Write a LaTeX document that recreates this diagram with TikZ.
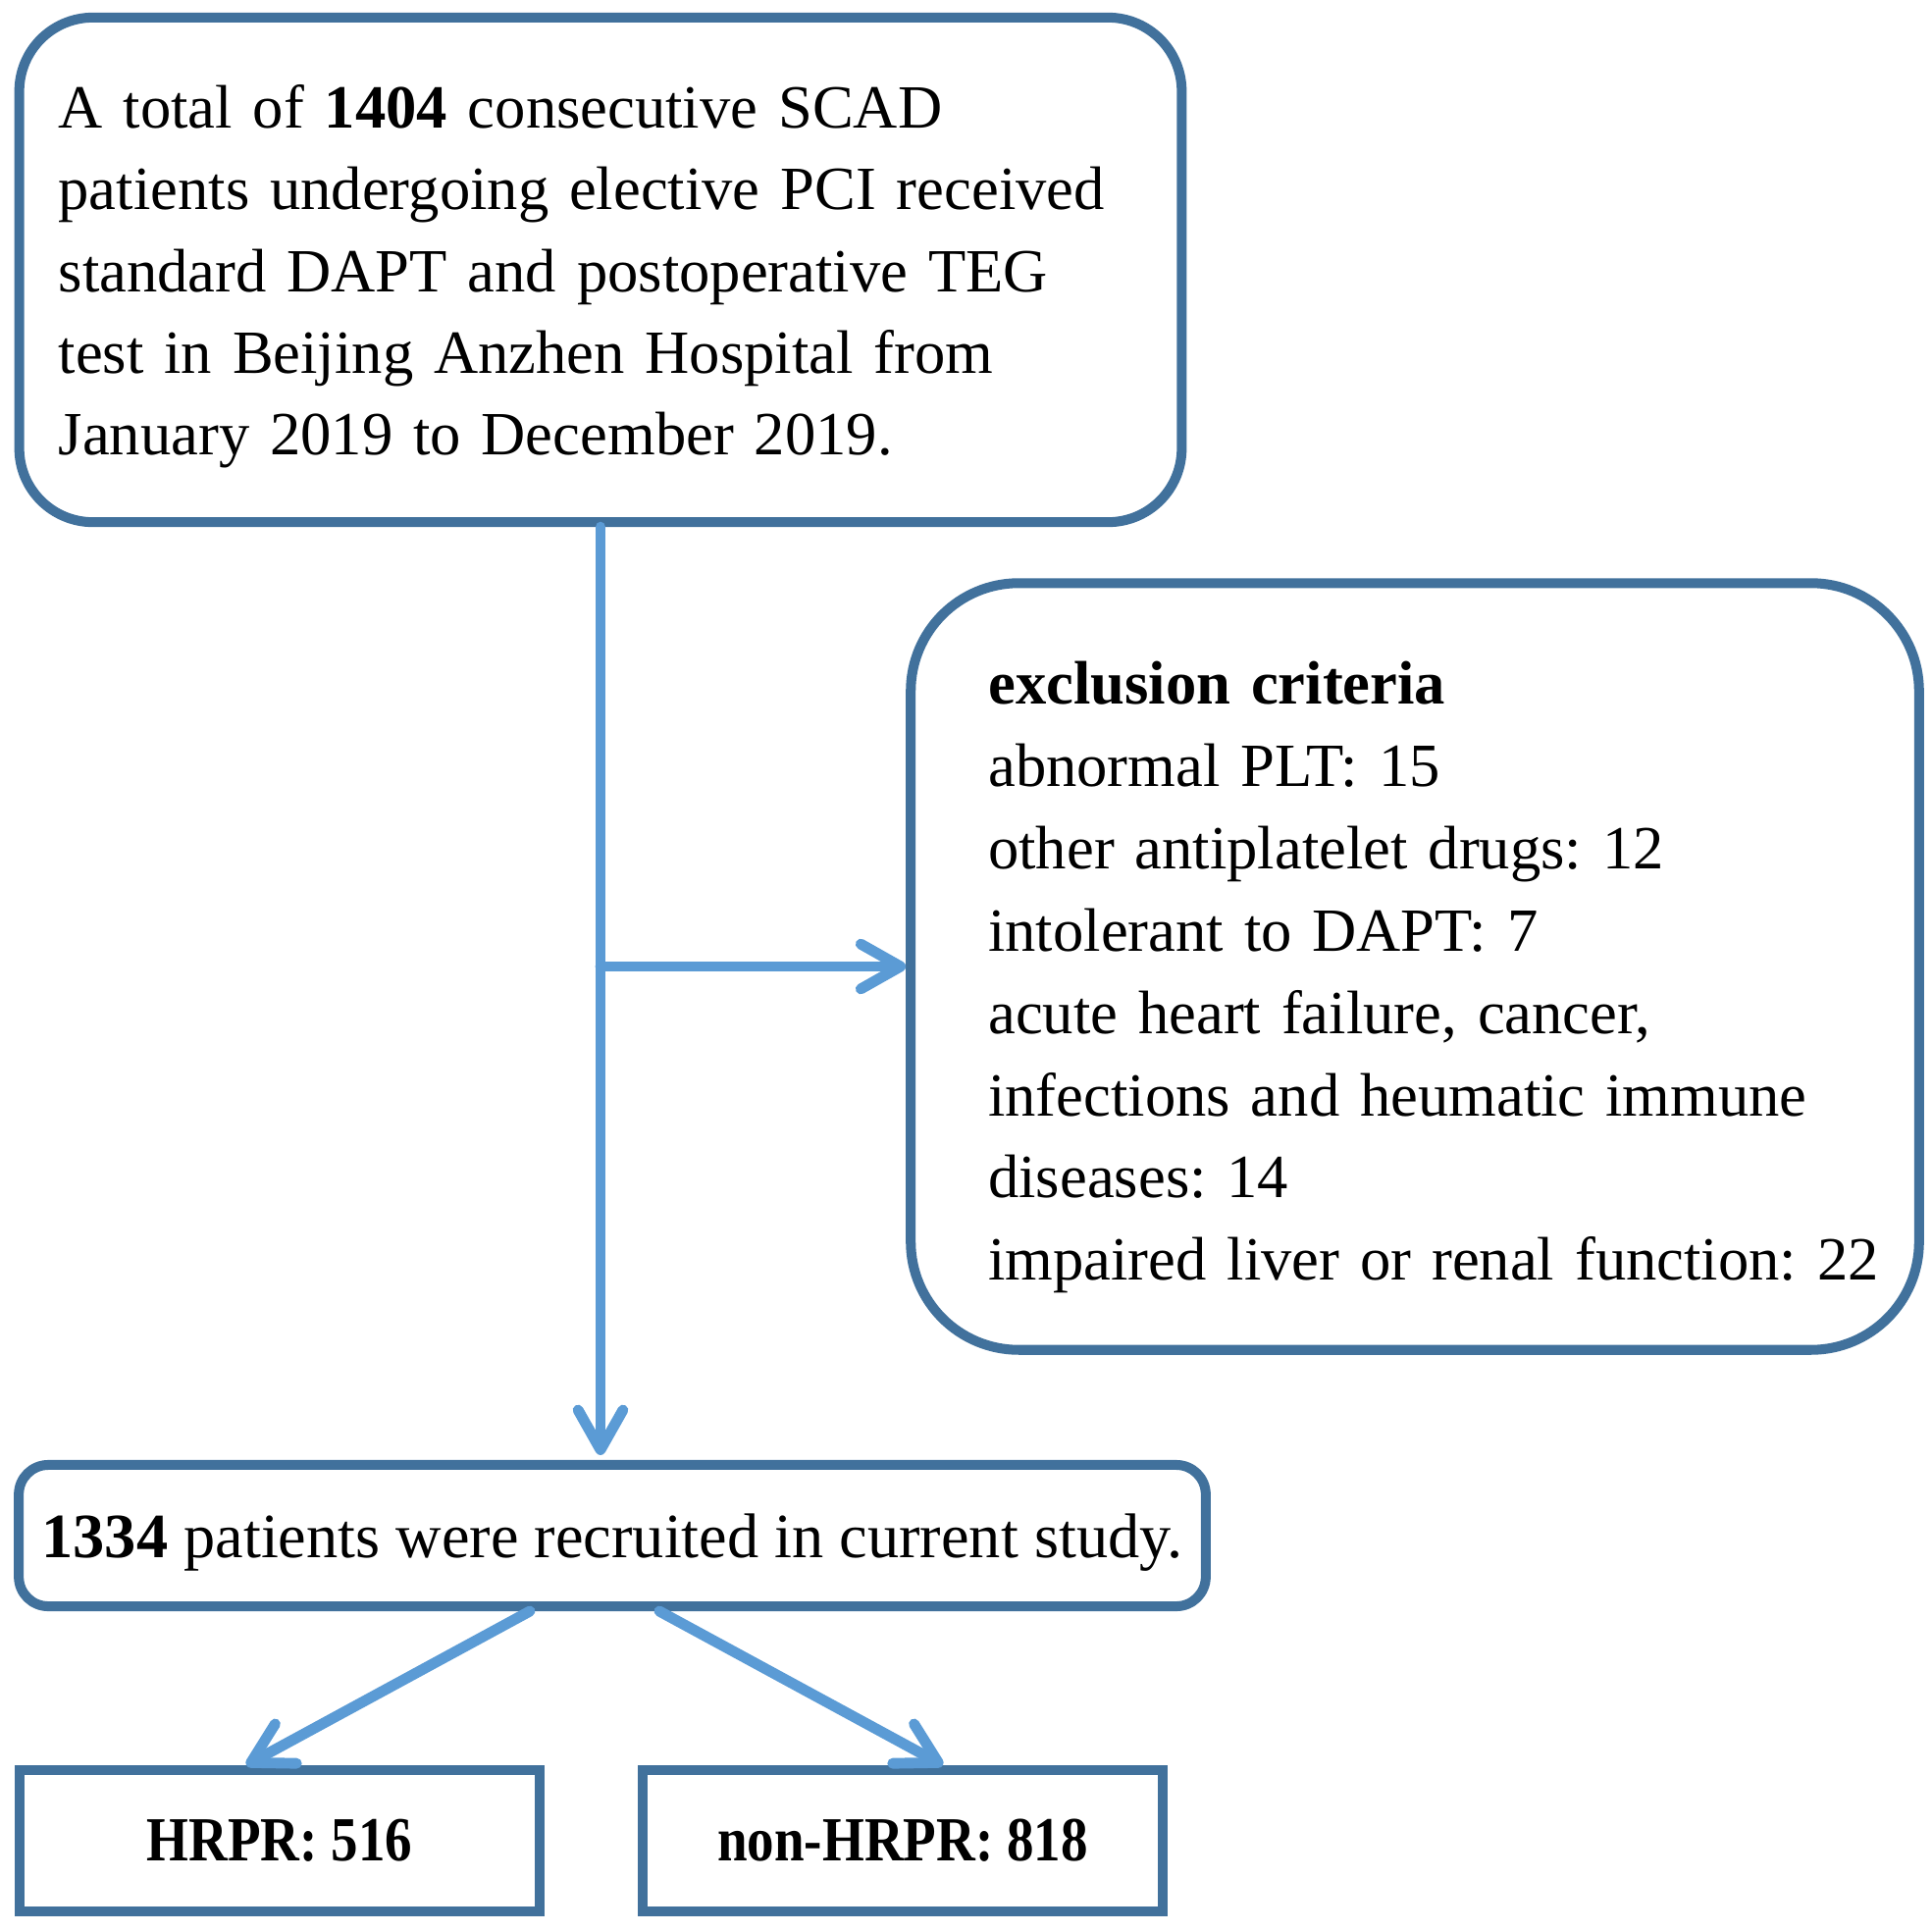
\documentclass[tikz,border=0pt]{standalone}
\usepackage{fontspec}
\setmainfont{Liberation Serif}
\newfontfamily\narrowfont[FakeStretch=0.86]{Liberation Serif}
\usetikzlibrary{arrows.meta,calc}
\definecolor{boxblue}{HTML}{41719C}
\definecolor{arrowblue}{HTML}{5B9BD5}
\frenchspacing

\begin{document}
\begin{tikzpicture}[x=0.01cm,y=-0.01cm,
    roundbox/.style={draw=boxblue,line width=2.85pt,align=left,
        font=\fontsize{17.8}{23.7}\selectfont},
    groupbox/.style={draw=boxblue,line width=2.85pt,minimum width=5.3cm,
        minimum height=1.44cm,font=\narrowfont\bfseries\fontsize{18.2}{23.7}\selectfont},
    flow/.style={draw=arrowblue,line width=3.1pt,line cap=round,
        -{Straight Barb[length=11.5pt,width=13pt,line cap=round,line join=round]}}]
    \useasboundingbox (0,0) rectangle (1969,1969);

    % boxes
    \node[roundbox,rounded corners=0.75cm,minimum width=11.84cm,minimum height=5.14cm,
        text width=11.04cm] (total) at (612,275)
        {\rule{0pt}{0pt}\\[-0.255cm]
         A total of \textbf{1404} consecutive SCAD\\
         patients undergoing elective PCI received\\
         standard DAPT and postoperative TEG\\
         test in Beijing Anzhen Hospital from\\
         January 2019 to December 2019.};
    \node[roundbox,rounded corners=1.1cm,minimum width=10.27cm,minimum height=7.81cm,
        text width=8.69cm,font=\fontsize{17.8}{23.85}\selectfont] (excl) at (1442,985)
        {\rule{0pt}{0pt}\\[-0.18cm]
         \textbf{exclusion criteria}\\
         abnormal PLT: 15\\
         other antiplatelet drugs: 12\\
         intolerant to DAPT: 7\\
         acute heart failure, cancer,\\
         infections and heumatic immune\\
         diseases: 14\\
         \mbox{impaired liver or renal function: 22}};
    \node[roundbox,rounded corners=0.3cm,minimum width=12.09cm,minimum height=1.44cm,
        font=\fontsize{18.3}{23.7}\selectfont,text depth=0pt] (recruited) at (624,1565)
        {\textbf{1334} patients were recruited in current study.};
    \node[groupbox] (hrpr) at (285,1876) {HRPR: 516};
    \node[groupbox] (nonhrpr) at (920,1876) {non-HRPR: 818};

    % arrows
    \draw[flow] (total.south) -- ([yshift=0.05cm]total.south |- recruited.north);
    \draw[flow] (total.south |- excl.west) -- (excl.west);
    \draw[flow] ($(recruited.south)+(-84,0)$) -- ($(hrpr.north)+(-34,0)$);
    \draw[flow] ($(recruited.south)+(48,0)$) -- ($(nonhrpr.north)+(41,0)$);
\end{tikzpicture}
\end{document}
